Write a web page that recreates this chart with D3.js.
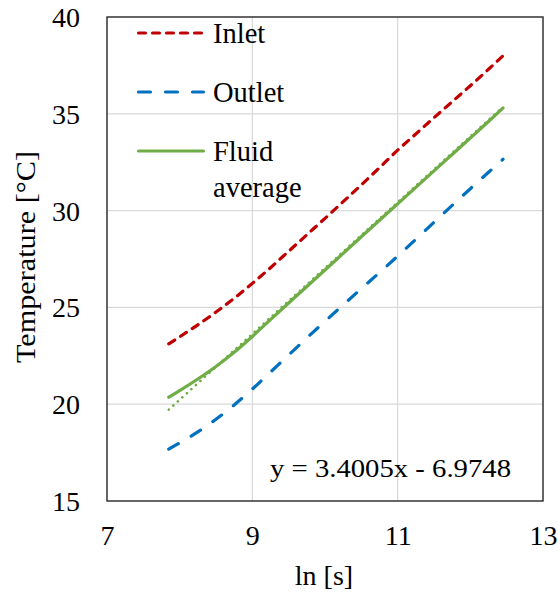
<!DOCTYPE html>
<html>
<head>
<meta charset="utf-8">
<script src="https://cdn.jsdelivr.net/npm/d3@7"></script>
<style>
  body { margin: 0; background: #fff; }
  svg text { font-family: "Liberation Serif", "Times New Roman", serif; fill: #000; }
</style>
</head>
<body>
<svg id="chart" width="558" height="593"></svg>
<script>
const lnTime = [7.85, 8.0, 8.25, 8.5, 8.75, 9.0, 9.25, 9.5, 9.75, 10.0, 10.25, 10.5, 10.75, 11.0, 11.25, 11.5, 11.75, 12.0, 12.25, 12.45];
const inlet = [23.12, 23.48, 24.1, 24.76, 25.47, 26.24, 27.05, 27.9, 28.75, 29.6, 30.46, 31.33, 32.22, 33.12, 33.96, 34.8, 35.62, 36.45, 37.3, 38.0];
const outlet = [17.68, 18.0, 18.57, 19.22, 19.96, 20.78, 21.66, 22.54, 23.42, 24.28, 25.13, 25.97, 26.8, 27.65, 28.52, 29.4, 30.27, 31.13, 31.98, 32.65];
const fluidAvg = [20.36, 20.7, 21.3, 21.95, 22.68, 23.5, 24.37, 25.23, 26.08, 26.93, 27.79, 28.65, 29.5, 30.35, 31.2, 32.05, 32.9, 33.75, 34.6, 35.3];
const trendX = [7.85, 12.45];
const trendY = [19.72, 35.36];
const xTicks = [7, 9, 11, 13];
const yTicks = [15, 20, 25, 30, 35, 40];
const equation = "y = 3.4005x - 6.9748";

const FONT = "Liberation Serif";
const svg = d3.select("#chart");
const L = 107, R = 543, T = 17, B = 501;
const x = d3.scaleLinear().domain([7, 13]).range([L, R]);
const y = d3.scaleLinear().domain([15, 40]).range([B, T]);

// gridlines
svg.append("g").selectAll("line").data(xTicks.slice(1, -1)).join("line")
  .attr("x1", d => x(d)).attr("x2", d => x(d)).attr("y1", T).attr("y2", B)
  .attr("stroke", "#d9d9d9").attr("stroke-width", 1.2);
svg.append("g").selectAll("line").data(yTicks.slice(1, -1)).join("line")
  .attr("x1", L).attr("x2", R).attr("y1", d => y(d)).attr("y2", d => y(d))
  .attr("stroke", "#d9d9d9").attr("stroke-width", 1.2);

// axes (labels only)
const xAxis = d3.axisBottom(x).tickValues(xTicks).tickFormat(d3.format("d")).tickSize(0).tickPadding(24);
const gx = svg.append("g").attr("transform", `translate(0,${B})`).call(xAxis);
gx.select(".domain").remove();
gx.attr("font-family", FONT).attr("font-size", 28);
gx.selectAll("text").attr("font-size", 28).style("font-family", FONT).attr("fill", "#000");

const yAxis = d3.axisLeft(y).tickValues(yTicks).tickFormat(d3.format("d")).tickSize(0).tickPadding(27);
const gy = svg.append("g").attr("transform", `translate(${L},0)`).call(yAxis);
gy.select(".domain").remove();
gy.attr("font-family", FONT).attr("font-size", 28);
gy.selectAll("text").attr("font-size", 28).style("font-family", FONT).attr("fill", "#000")
  .attr("dy", null).attr("y", 9.5);

// plot border
svg.append("rect").attr("x", L).attr("y", T).attr("width", R - L).attr("height", B - T)
  .attr("fill", "none").attr("stroke", "#262626").attr("stroke-width", 1.4);

const line = d3.line().x(d => x(d[0])).y(d => y(d[1])).curve(d3.curveMonotoneX);
const pts = arr => lnTime.map((t, i) => [t, arr[i]]);

svg.append("path").datum(pts(fluidAvg)).attr("d", line)
  .attr("fill", "none").attr("stroke", "#70ad47").attr("stroke-width", 3.2)
  .attr("stroke-linecap", "round");
// trendline (dotted)
svg.append("path").datum(trendX.map((t, i) => [t, trendY[i]])).attr("d", d3.line().x(d => x(d[0])).y(d => y(d[1])))
  .attr("fill", "none").attr("stroke", "#70ad47").attr("stroke-width", 2.6)
  .attr("stroke-linecap", "round").attr("stroke-dasharray", "0.1 6");
svg.append("path").datum(pts(inlet)).attr("d", line)
  .attr("fill", "none").attr("stroke", "#c00000").attr("stroke-width", 3.2)
  .attr("stroke-linecap", "round").attr("stroke-dasharray", "7 7");
svg.append("path").datum(pts(outlet)).attr("d", line)
  .attr("fill", "none").attr("stroke", "#0070c0").attr("stroke-width", 3.2)
  .attr("stroke-linecap", "round").attr("stroke-dasharray", "11 15");

// legend
const leg = [
  { name: ["Inlet"], color: "#c00000", dash: "7 7", y: 33 },
  { name: ["Outlet"], color: "#0070c0", dash: "12 15", y: 92 },
  { name: ["Fluid", "average"], color: "#70ad47", dash: null, y: 151 }
];
leg.forEach(l => {
  const p = svg.append("line").attr("x1", 138.5).attr("x2", 203.5).attr("y1", l.y).attr("y2", l.y)
    .attr("stroke", l.color).attr("stroke-width", 3.2).attr("stroke-linecap", "round");
  if (l.dash) p.attr("stroke-dasharray", l.dash);
  l.name.forEach((n, i) => {
    svg.append("text").attr("x", 213).attr("y", l.y + 10 + i * 36).attr("font-size", 28.5).text(n);
  });
});

// equation
svg.append("text").attr("x", 270).attr("y", 477).attr("font-size", 25)
  .attr("textLength", 241).attr("lengthAdjust", "spacingAndGlyphs").text(equation);

// axis titles
svg.append("text").attr("x", 324).attr("y", 585).attr("text-anchor", "middle")
  .attr("font-size", 28).text("ln [s]");
svg.append("text").attr("transform", "translate(35,257) rotate(-90)")
  .attr("text-anchor", "middle").attr("font-size", 27)
  .attr("textLength", 212).attr("lengthAdjust", "spacingAndGlyphs").text("Temperature [°C]");
</script>
</body>
</html>
